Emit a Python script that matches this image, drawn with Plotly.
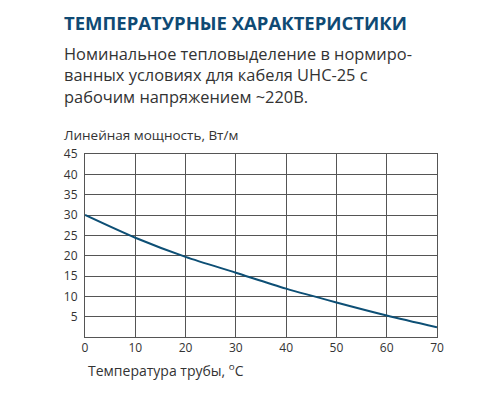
import plotly.graph_objects as go

# Data
temps = [0, 10, 20, 30, 40, 50, 60, 70]
power = [30, 24.4, 19.7, 15.8, 11.9, 8.5, 5.3, 2.4]

x_ticks = [0, 10, 20, 30, 40, 50, 60, 70]
y_ticks = [5, 10, 15, 20, 25, 30, 35, 40, 45]

title_text = "ТЕМПЕРАТУРНЫЕ ХАРАКТЕРИСТИКИ"
subtitle_text = ("Номинальное тепловыделение в нормиро-<br>"
                 "ванных условиях для кабеля UHC-25 с<br>"
                 "рабочим напряжением ~220В.")
y_title = "Линейная мощность, Вт/м"
x_title = "Температура трубы, <sup>o</sup>C"

font_family = "Open Sans"
text_color = "#333333"
grid_color = "#555555"

fig = go.Figure()

fig.add_trace(go.Scatter(
    x=temps,
    y=power,
    mode="lines",
    line=dict(color="#0d4f75", width=2, shape="spline", smoothing=0.8),
    showlegend=False,
))

fig.update_xaxes(
    range=[0, 70],
    tickvals=x_ticks,
    showgrid=True,
    gridcolor=grid_color,
    gridwidth=1,
    showline=True,
    linecolor=grid_color,
    linewidth=1,
    mirror=True,
    zeroline=False,
    ticks="",
    tickfont=dict(family=font_family, size=12, color=text_color),
)

fig.update_yaxes(
    range=[0, 45],
    tickvals=y_ticks,
    showgrid=True,
    gridcolor=grid_color,
    gridwidth=1,
    showline=True,
    linecolor=grid_color,
    linewidth=1,
    mirror=True,
    zeroline=False,
    ticks="outside",
    ticklen=4,
    tickcolor="white",
    tickfont=dict(family=font_family, size=12, color=text_color),
)

# the page is drawn with an 8px body margin, so the plot area is placed
# to land at x 85..437 px and y 154..337 px in the window
fig.update_layout(
    width=500,
    height=400,
    margin=dict(l=77, r=71, t=146, b=71),
    plot_bgcolor="white",
    paper_bgcolor="white",
    font=dict(family=font_family, color=text_color),
    annotations=[
        dict(text="<b>" + title_text + "</b>", xref="paper", yref="paper",
             x=-0.066, y=(337 - 22) / 183, xanchor="left", yanchor="middle",
             showarrow=False,
             font=dict(family=font_family, size=18.5, color="#0f4a74")),
        dict(text=subtitle_text, xref="paper", yref="paper",
             x=-0.066, y=(337 - 40) / 183, xanchor="left", yanchor="top",
             align="left", showarrow=False,
             font=dict(family=font_family, size=16.4, color=text_color)),
        dict(text=y_title, xref="paper", yref="paper",
             x=-0.066, y=(337 - 135) / 183, xanchor="left", yanchor="middle",
             showarrow=False,
             font=dict(family=font_family, size=13.5, color=text_color)),
        dict(text=x_title, xref="paper", yref="paper",
             x=(86 - 85) / 352, y=(337 - 370) / 183, xanchor="left", yanchor="middle",
             showarrow=False,
             font=dict(family=font_family, size=14, color=text_color)),
    ],
)

fig.write_html("out.html")
